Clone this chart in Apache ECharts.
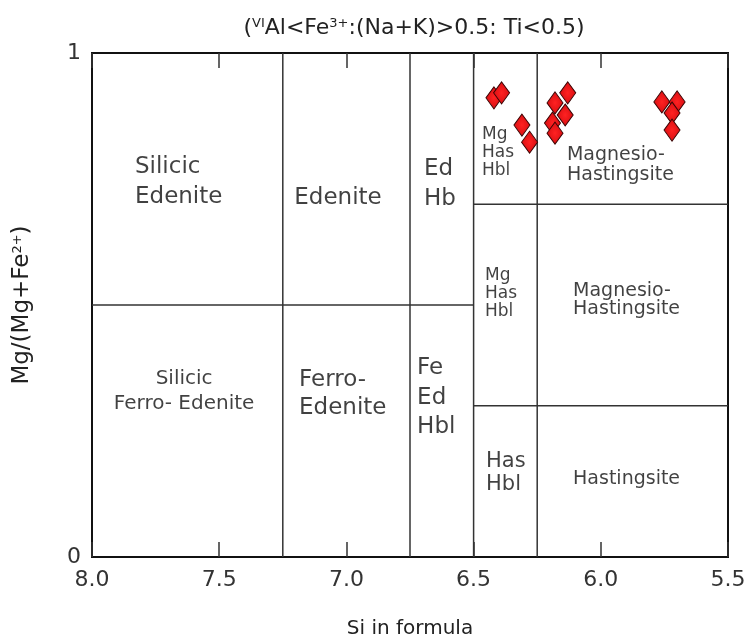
<!DOCTYPE html>
<html>
<head>
<meta charset="utf-8">
<script src="https://cdn.jsdelivr.net/npm/echarts@6/dist/echarts.min.js"></script>
<style>
  html, body { margin: 0; padding: 0; background: #fff; }
  #chart { width: 746px; height: 641px; }
</style>
</head>
<body>
<div id="chart"></div>
<script>
// sample points: Si in formula vs Mg/(Mg+Fe2+)
const siValues = [6.42, 6.39, 6.31, 6.28, 6.18, 6.13, 6.14, 6.19, 6.18, 5.76, 5.70, 5.72, 5.72]
const mgValues = [0.911, 0.921, 0.857, 0.823, 0.901, 0.921, 0.877, 0.861, 0.841, 0.903, 0.903, 0.881, 0.847]

// field boundaries [x1, y1, x2, y2]
const boundaries = [
    [7.25, 0, 7.25, 1],
    [6.75, 0, 6.75, 1],
    [6.5, 0, 6.5, 1],
    [6.25, 0, 6.25, 1],
    [8.0, 0.5, 6.5, 0.5],
    [6.5, 0.7, 5.5, 0.7],
    [6.5, 0.3, 5.5, 0.3]
]

// field names and where they sit
const fieldNames = ['Silicic\nEdenite', 'Edenite', 'Ed\nHb', 'Silicic\nFerro- Edenite', 'Ferro-\nEdenite',
    'Fe\nEd\nHbl', 'Mg\nHas\nHbl', 'Magnesio-\nHastingsite', 'Mg\nHas\nHbl', 'Magnesio-\nHastingsite',
    'Has\nHbl', 'Hastingsite']
const fieldX = [7.831, 7.033, 6.695, 7.638, 7.186, 6.722, 6.467, 6.133, 6.455, 6.109, 6.451, 6.109]
const fieldY = [0.744, 0.712, 0.740, 0.328, 0.323, 0.316, 0.802, 0.778, 0.522, 0.510, 0.166, 0.155]
const fieldSize = [23, 23, 23, 20, 23, 23, 17, 19, 17, 19, 21, 19]
const fieldLineH = [30, 30, 30, 25, 28, 29.5, 18, 20, 18, 18, 23, 20]
const fieldAlign = ['left', 'center', 'left', 'center', 'left', 'left', 'left', 'left', 'left', 'left', 'left', 'left']

const xTickValues = [5.5, 6.0, 6.5, 7.0, 7.5, 8.0]
const xTickLabels = ['5.5', '6.0', '6.5', '7.0', '7.5', '8.0']
const yTickLabels = ['0', '1']

const font = 'DejaVu Sans'

let chart = echarts.init(document.getElementById('chart'))

let series = []
boundaries.forEach(function (b) {
    series.push({
        type: 'line',
        data: [[b[0], b[1]], [b[2], b[3]]],
        symbol: 'none',
        silent: true,
        lineStyle: { color: '#333', width: 1.5 },
        z: 2
    })
})

let labelData = []
for (let i = 0; i < fieldNames.length; i++) {
    labelData.push({
        value: [fieldX[i], fieldY[i]],
        name: fieldNames[i],
        label: {
            fontSize: fieldSize[i],
            lineHeight: fieldLineH[i],
            align: fieldAlign[i]
        }
    })
}
series.push({
    type: 'scatter',
    data: labelData,
    symbolSize: 0,
    silent: true,
    label: {
        show: true,
        position: [0, 0],
        verticalAlign: 'middle',
        formatter: function (p) { return p.name },
        color: '#111',
        fontFamily: font
    },
    z: 3
})

let points = []
for (let i = 0; i < siValues.length; i++) {
    points.push([siValues[i], mgValues[i]])
}
series.push({
    type: 'scatter',
    data: points,
    symbol: 'diamond',
    symbolSize: [16, 22],
    itemStyle: {
        color: {
            type: 'radial', x: 0.5, y: 0.5, r: 0.6,
            colorStops: [{ offset: 0, color: '#ff2222' }, { offset: 1, color: '#d00a0e' }]
        },
        borderColor: '#3a0505',
        borderWidth: 1,
        opacity: 1
    },
    z: 5
})

let option = {
    animation: false,
    title: {
        text: '({sup|VI}Al<Fe{sup|3+}:(Na+K)>0.5: Ti<0.5)',
        left: 409,
        top: 12,
        textAlign: 'center',
        textStyle: {
            fontFamily: font,
            fontSize: 22,
            fontWeight: 'normal',
            color: '#222',
            rich: {
                sup: { fontFamily: font, fontSize: 13, verticalAlign: 'top', color: '#222' }
            }
        }
    },
    grid: {
        left: 92,
        right: 18,
        top: 53,
        bottom: 84,
        outerBoundsMode: 'none',
        show: true,
        borderColor: '#111',
        borderWidth: 2
    },
    xAxis: [
        {
            type: 'value',
            inverse: true,
            min: 5.5,
            max: 8.0,
            interval: 0.5,
            position: 'bottom',
            name: 'Si in formula',
            nameLocation: 'middle',
            nameGap: 62,
            nameTextStyle: { fontFamily: font, fontSize: 20, color: '#222' },
            axisLine: { show: true, lineStyle: { color: '#111', width: 2 } },
            axisTick: { show: true, inside: true, length: 15, lineStyle: { color: '#333', width: 1.5 } },
            axisLabel: {
                margin: 12,
                fontFamily: font,
                fontSize: 22,
                color: '#333',
                formatter: function (v) {
                    let k = xTickValues.indexOf(v)
                    return k >= 0 ? xTickLabels[k] : ''
                }
            },
            splitLine: { show: false }
        },
        {
            type: 'value',
            inverse: true,
            min: 5.5,
            max: 8.0,
            interval: 0.5,
            position: 'top',
            axisLine: { show: true, lineStyle: { color: '#111', width: 2 } },
            axisTick: { show: true, inside: true, length: 15, lineStyle: { color: '#333', width: 1.5 } },
            axisLabel: { show: false },
            splitLine: { show: false }
        }
    ],
    yAxis: {
        type: 'value',
        min: 0,
        max: 1,
        interval: 1,
        name: 'Mg/(Mg+Fe{sup|2+})',
        nameLocation: 'middle',
        nameGap: 58,
        nameTextStyle: {
            fontFamily: font,
            fontSize: 23,
            color: '#222',
            rich: { sup: { fontFamily: font, fontSize: 13, verticalAlign: 'top', color: '#222' } }
        },
        axisLine: { show: true, lineStyle: { color: '#111', width: 2 } },
        axisTick: { show: false },
        axisLabel: {
            margin: 11,
            fontFamily: font,
            fontSize: 22,
            color: '#333',
            formatter: function (v) { return yTickLabels[v] }
        },
        splitLine: { show: false }
    },
    series: series
}

chart.setOption(option, true)
</script>
</body>
</html>
